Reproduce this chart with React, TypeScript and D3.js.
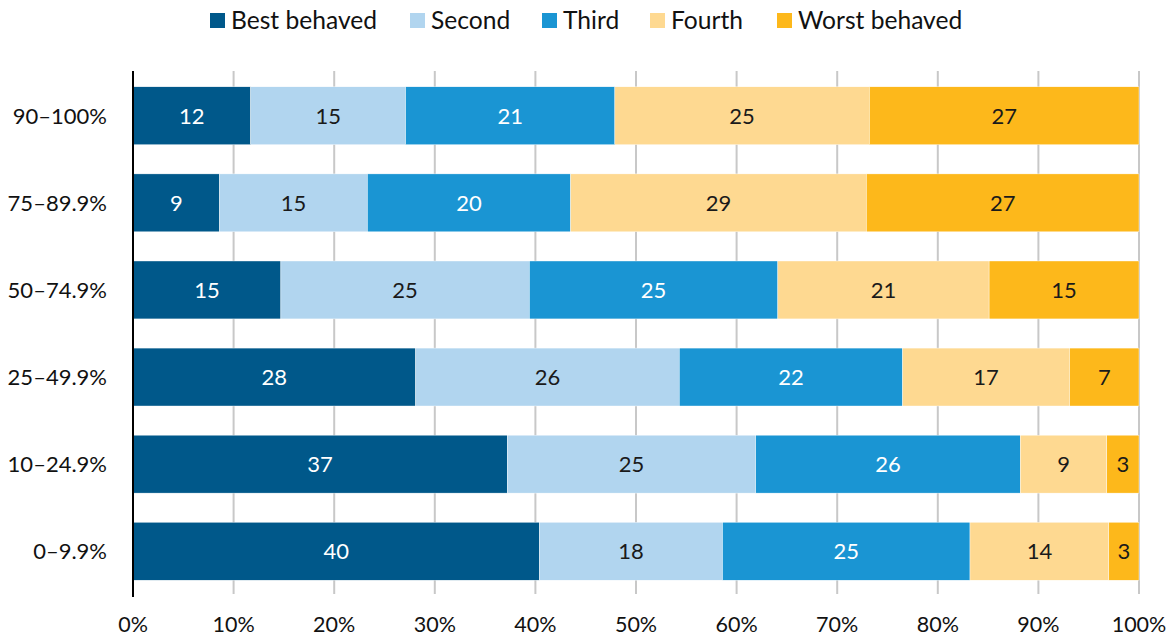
import React from "react";
import * as d3 from "d3";

const categories = ["90–100%", "75–89.9%", "50–74.9%", "25–49.9%", "10–24.9%", "0–9.9%"];
const seriesNames = ["Best behaved", "Second", "Third", "Fourth", "Worst behaved"];
const bestBehaved = [11.7, 8.6, 14.7, 28.1, 37.2, 40.4];
const second = [15.4, 14.7, 24.7, 26.2, 24.7, 18.2];
const third = [20.8, 20.2, 24.7, 22.2, 26.3, 24.6];
const fourth = [25.3, 29.4, 21.0, 16.6, 8.6, 13.8];
const worstBehaved = [26.8, 27.1, 14.9, 6.9, 3.2, 3.0];
const xTicks = [0, 10, 20, 30, 40, 50, 60, 70, 80, 90, 100];
const colors = ["#00588a", "#b1d5ef", "#1a95d3", "#fed991", "#fdb81b"];
const labelColors = ["#ffffff", "#1a1a1a", "#ffffff", "#1a1a1a", "#1a1a1a"];

const W = 1174, H = 637;
const margin = { left: 133, right: 35, top: 72, bottom: 42 };
const FONT = "Lato, 'Open Sans', sans-serif";

export default function App() {
  const seriesData = [bestBehaved, second, third, fourth, worstBehaved];
  const rows = categories.map((c, i) => {
    const o: any = { cat: c };
    seriesNames.forEach((s, j) => (o[s] = seriesData[j][i]));
    return o;
  });
  const stack = d3.stack().keys(seriesNames).offset(d3.stackOffsetExpand);
  const stacked = stack(rows);
  const x = d3.scaleLinear().domain([0, 1]).range([margin.left, W - margin.right]);
  const y = d3.scaleBand().domain(categories).range([margin.top, H - margin.bottom]).paddingInner(0.335).paddingOuter(0.17);
  const fmt = d3.format(".0f");

  const legendX = [210, 410, 542, 650, 777];

  return (
    <svg width={W} height={H} style={{ position: "absolute", left: 0, top: 0, background: "#fff" }} fontFamily={FONT}>
      {/* legend */}
      {seriesNames.map((s, i) => (
        <g key={s}>
          <rect x={legendX[i]} y={13} width={15} height={15} fill={colors[i]} />
          <text x={legendX[i] + 21} y={28.5} fontSize={24.6} fill="#111">{s}</text>
        </g>
      ))}
      {/* gridlines */}
      {xTicks.slice(1).map((t) => (
        <line key={t} x1={x(t / 100)} x2={x(t / 100)} y1={71} y2={594} stroke="#c8c8c8" strokeWidth={2} />
      ))}
      {/* bars */}
      {stacked.map((layer, si) => (
        <g key={layer.key}>
          {layer.map((d: any, i) => {
            const x0 = x(d[0]), x1 = x(d[1]);
            const yy = y(categories[i])!;
            return (
              <g key={i}>
                <rect x={x0} y={yy} width={x1 - x0} height={y.bandwidth()} fill={colors[si]} stroke="#fff" strokeWidth={0.4} />
                <text x={(x0 + x1) / 2} y={yy + y.bandwidth() / 2 + 8} textAnchor="middle" fontSize={22} fill={labelColors[si]}>
                  {fmt(seriesData[si][i])}
                </text>
              </g>
            );
          })}
        </g>
      ))}
      {/* axis line */}
      <line x1={margin.left} x2={margin.left} y1={71} y2={597} stroke="#000" strokeWidth={2} />
      {/* category labels */}
      {categories.map((c) => (
        <text key={c} x={107} y={y(c)! + y.bandwidth() / 2 + 8} textAnchor="end" fontSize={22} fill="#111">{c}</text>
      ))}
      {/* x tick labels */}
      {xTicks.map((t) => (
        <text key={t} x={x(t / 100)} y={632} textAnchor="middle" fontSize={21.5} fill="#111">{t}%</text>
      ))}
    </svg>
  );
}
